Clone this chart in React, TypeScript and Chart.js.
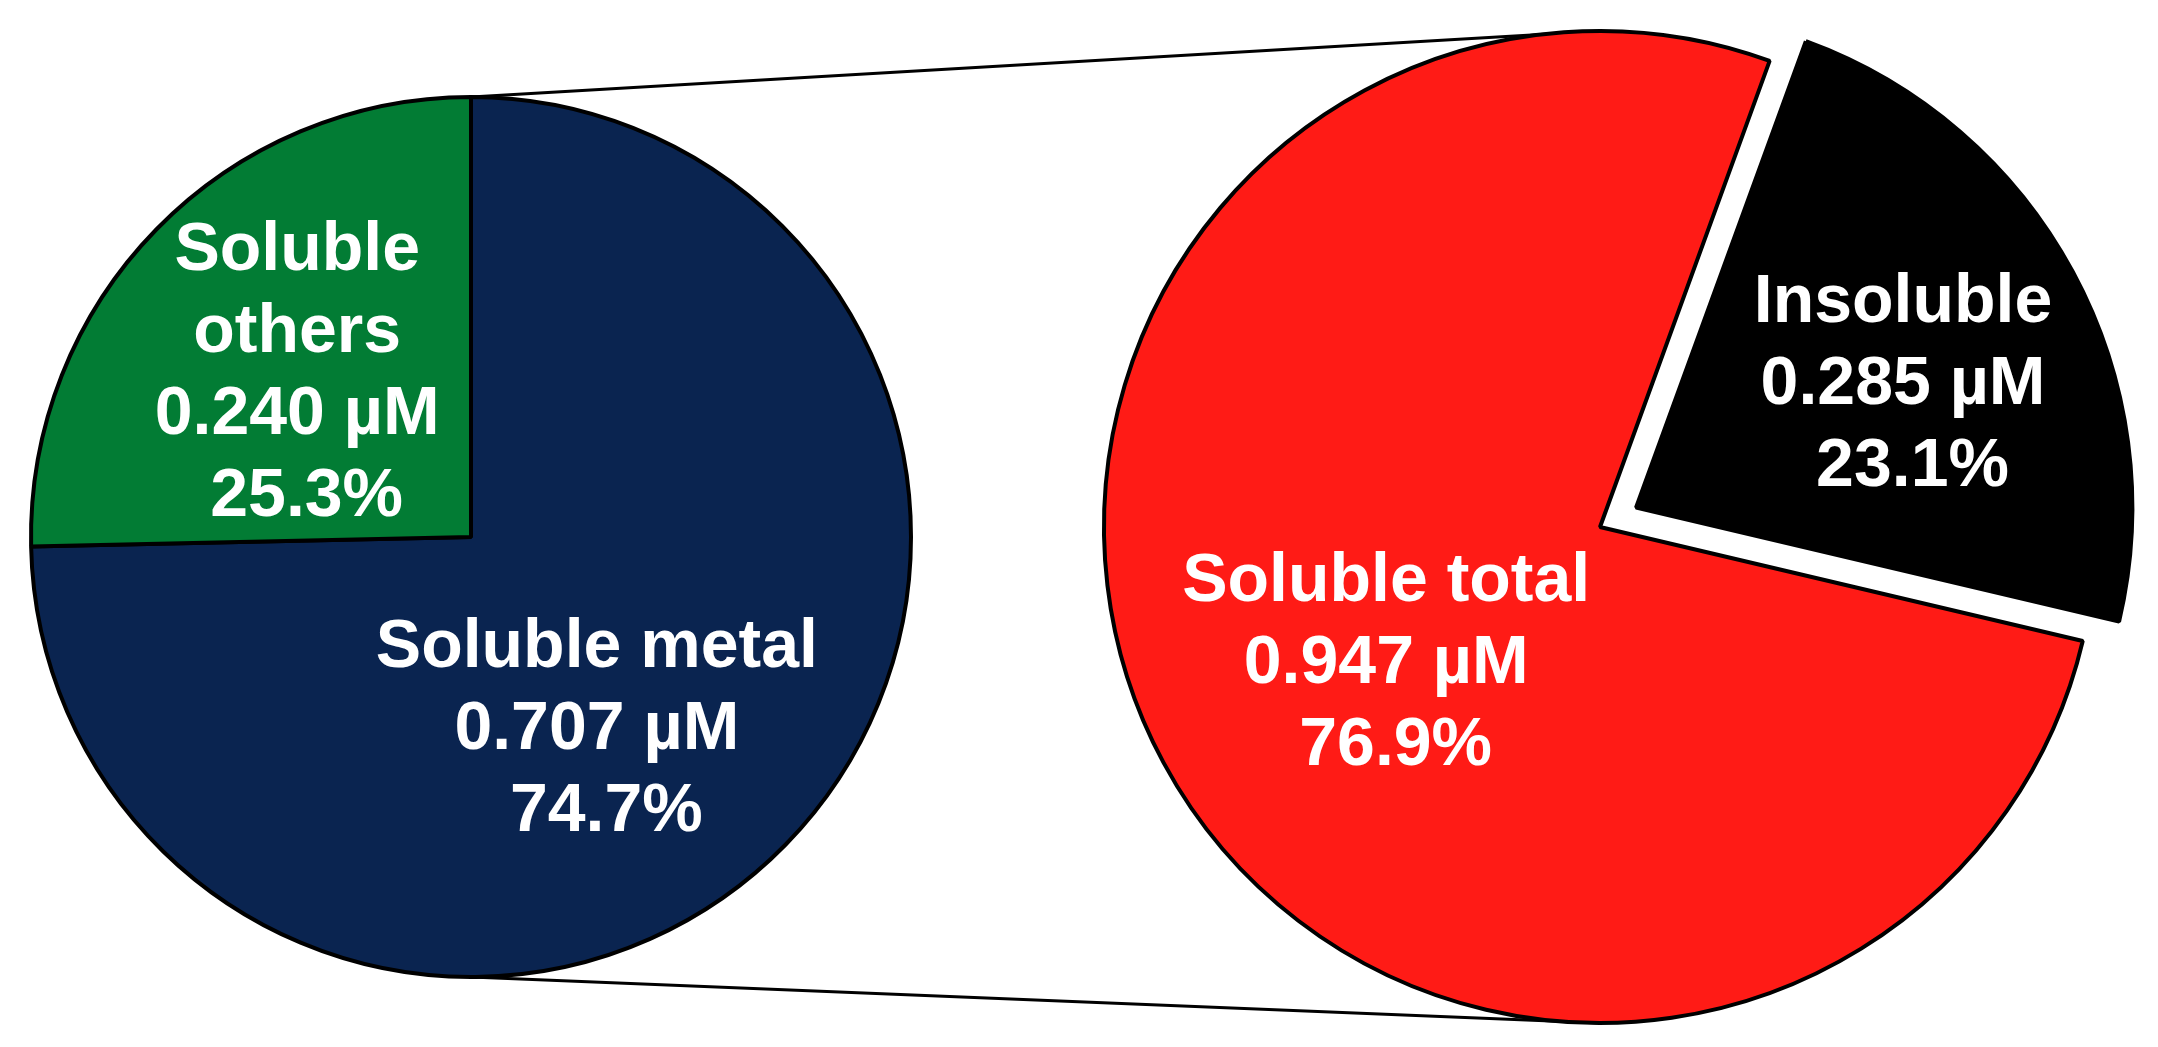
import React, { useEffect, useRef } from "react";
import { Chart, registerables } from "chart.js";

Chart.register(...registerables);

const W = 2158;
const H = 1047;

// ---- data ----
const leftCategories = ["Soluble metal", "Soluble others"];
const leftValues = [0.707, 0.24];
const leftColors = ["#0A2450", "#027C34"];

const rightCategories = ["Insoluble", "Soluble total"];
const rightValues = [0.285, 0.947];
const rightColors = ["#000000", "#FF1B16"];

const unit = "µM";

// label layout (relative to pie centre, in units of radius)
const leftLabelAnchors = [
  [0.286, 0.425],
  [-0.395, -0.384],
];
const leftWrap = [false, true];
const rightLabelAnchors = [
  [0.611, -0.297],
  [-0.431, 0.265],
];
const rightWrap = [false, false];

const FONT = "bold 68px 'Liberation Sans', Arial, Helvetica, sans-serif";
const LINE_H = 82;
const CAP = 49;

function makeLabelPlugin(id: string, cats: string[], vals: number[], anchors: number[][], wrap: boolean[]) {
  return {
    id,
    afterDatasetsDraw(chart: any) {
      const meta = chart.getDatasetMeta(0);
      const total = vals.reduce((a, b) => a + b, 0);
      const ctx = chart.ctx;
      ctx.save();
      ctx.font = FONT;
      ctx.fillStyle = "#ffffff";
      ctx.textAlign = "center";
      ctx.textBaseline = "alphabetic";
      meta.data.forEach((arc: any, i: number) => {
        const r = arc.outerRadius;
        const cx = arc.x + anchors[i][0] * r;
        const cy = arc.y + anchors[i][1] * r;
        const nameLines = wrap[i] ? cats[i].split(" ") : [cats[i]];
        const lines = [
          ...nameLines,
          vals[i].toFixed(3) + " " + unit,
          " " + ((vals[i] / total) * 100).toFixed(1) + "%",
        ];
        const n = lines.length;
        lines.forEach((t, k) => {
          const y = cy + (k - (n - 1) / 2) * LINE_H + CAP / 2;
          ctx.fillText(t, cx, y);
        });
      });
      ctx.restore();
    },
  };
}

export default function App() {
  const leftRef = useRef<HTMLCanvasElement | null>(null);
  const rightRef = useRef<HTMLCanvasElement | null>(null);

  useEffect(() => {
    if (!leftRef.current || !rightRef.current) return;

    const leftChart = new Chart(leftRef.current, {
      type: "pie",
      data: {
        labels: leftCategories,
        datasets: [
          {
            data: leftValues,
            backgroundColor: leftColors,
            borderColor: "#000000",
            borderWidth: 4,
          },
        ],
      },
      options: {
        responsive: false,
        animation: false,
        radius: 440,
        rotation: 0,
        layout: { padding: { left: 0, right: W - 942, top: 27, bottom: 0 } },
        plugins: { legend: { display: false }, tooltip: { enabled: false } },
        events: [],
      } as any,
      plugins: [makeLabelPlugin("leftLabels", leftCategories, leftValues, leftLabelAnchors, leftWrap)],
    });

    const connectors = {
      id: "connectors",
      beforeDatasetsDraw(chart: any) {
        const L = leftChart.getDatasetMeta(0).data[0] as any;
        const R = chart.getDatasetMeta(0).data[1] as any;
        if (!L || !R) return;
        const ctx = chart.ctx;
        ctx.save();
        ctx.strokeStyle = "#000000";
        ctx.lineWidth = 3;
        ctx.beginPath();
        ctx.moveTo(L.x, L.y - L.outerRadius);
        ctx.lineTo(R.x, R.y - R.outerRadius);
        ctx.moveTo(L.x, L.y + L.outerRadius);
        ctx.lineTo(R.x, R.y + R.outerRadius);
        ctx.stroke();
        ctx.restore();
      },
    };

    const rightChart = new Chart(rightRef.current, {
      type: "pie",
      data: {
        labels: rightCategories,
        datasets: [
          {
            data: rightValues,
            backgroundColor: rightColors,
            borderColor: "#000000",
            borderWidth: 4,
            offset: [164, 0],
          },
        ],
      },
      options: {
        responsive: false,
        animation: false,
        radius: 496,
        rotation: 20,
        layout: { padding: { left: 1042, right: 0, top: 7, bottom: 0 } },
        plugins: { legend: { display: false }, tooltip: { enabled: false } },
        events: [],
      } as any,
      plugins: [connectors, makeLabelPlugin("rightLabels", rightCategories, rightValues, rightLabelAnchors, rightWrap)],
    });

    return () => {
      rightChart.destroy();
      leftChart.destroy();
    };
  }, []);

  return (
    <div style={{ position: "absolute", left: 0, top: 0, width: W, height: H, background: "#ffffff" }}>
      <canvas ref={leftRef} width={W} height={H} style={{ position: "absolute", left: 0, top: 0 }} />
      <canvas ref={rightRef} width={W} height={H} style={{ position: "absolute", left: 0, top: 0 }} />
    </div>
  );
}
